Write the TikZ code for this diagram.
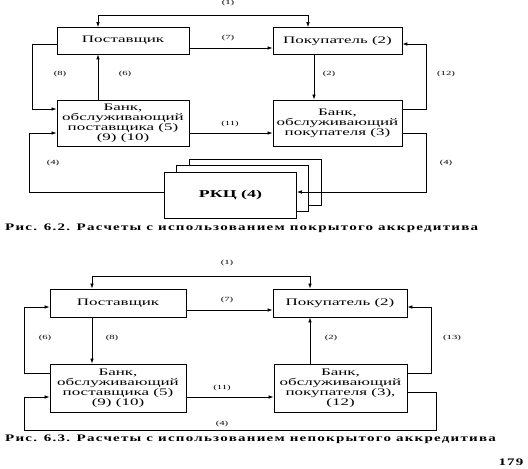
\documentclass[tikz,border=0pt]{standalone}
\usepackage{fontspec}
\setmainfont{Liberation Serif}
\newfontfamily\sr[FakeStretch=1.7]{Liberation Serif}
\newfontfamily\capfont[FakeStretch=1.5,LetterSpace=12.5]{Liberation Serif}
\usetikzlibrary{arrows.meta}
\begin{document}
\begin{tikzpicture}[x=1pt,y=-1pt,
  box/.style={draw, line width=0.8pt, inner sep=0pt, align=center, font=\sr\fontsize{10}{10}\selectfont},
  lbl/.style={font=\sr\fontsize{6.3}{7}\selectfont, inner sep=0pt},
  arr/.style={line width=0.7pt, -{Latex[length=5pt,width=3.6pt]}},
  arrb/.style={line width=0.7pt, {Latex[length=5pt,width=3.6pt]}-{Latex[length=5pt,width=3.6pt]}},
  captxt/.style={font=\capfont\bfseries\fontsize{10}{12}\selectfont, inner sep=0pt, anchor=west}]
\useasboundingbox (0,0) rectangle (528,469);
\fill[white] (0,0) rectangle (528,469);

% ---------- Fig 6.2 ----------
\node[box, minimum width=132pt, minimum height=26.5pt] (P1) at (123,40.75) {Поставщик};
\node[box, minimum width=129pt, minimum height=26.5pt] (B1) at (337.5,40.75) {Покупатель (2)};
\node[box, minimum width=132pt, minimum height=46pt] (L1) at (123,123) {Банк,\\обслуживающий\\поставщика (5)\\(9) (10)};
\node[box, minimum width=129pt, minimum height=46pt] (R1) at (337.5,123) {Банк,\\обслуживающий\\покупателя (3)};
\node[box, fill=white, minimum width=132pt, minimum height=46pt] (K3) at (255,182) {};
\node[box, fill=white, minimum width=132pt, minimum height=46pt] (K2) at (242.75,188.5) {};
\node[box, fill=white, minimum width=132pt, minimum height=46pt, font=\sr\bfseries\fontsize{10.5}{12}\selectfont] (K1) at (230.5,195) {РКЦ (4)};

\draw[arrb] (P1.north -| 98,0) -- (98,15) -- (308,15) -- (B1.north -| 308,0);
\draw[arr] (P1.east |- 0,48) -- (B1.west |- 0,48);
\draw[arr] (P1.west |- 0,44) -- (32,44) -- (32,109) -- (L1.west |- 0,109);
\draw[arr] (L1.north -| 98,0) -- (P1.south -| 98,0);
\draw[arr] (B1.south -| 314,0) -- (R1.north -| 314,0);
\draw[arr] (R1.east |- 0,109) -- (426,109) -- (426,44) -- (B1.east |- 0,44);
\draw[arr] (L1.east |- 0,133) -- (R1.west |- 0,133);
\draw[arr] (K1.west |- 0,192) -- (29,192) -- (29,133) -- (L1.west |- 0,133);
\draw[arr] (R1.east |- 0,133) -- (426,133) -- (426,192) -- (K1.east |- 0,192);

\node[lbl] (t1) at (228,3) {(1)};
\node[lbl] (t7) at (228,38) {(7)};
\node[lbl] (t8) at (60,74) {(8)};
\node[lbl] (t6) at (125,74) {(6)};
\node[lbl] (t2) at (329,74) {(2)};
\node[lbl] (t12) at (446,74) {(12)};
\node[lbl] (t11) at (230,124) {(11)};
\node[lbl] (t4a) at (53,163) {(4)};
\node[lbl] (t4b) at (446,163) {(4)};

\node[captxt] (c62) at (5,228) {Рис. 6.2. Расчеты с использованием покрытого аккредитива};

% ---------- Fig 6.3 ----------
\node[box, minimum width=136pt, minimum height=28pt] (P2) at (118,303) {Поставщик};
\node[box, minimum width=134pt, minimum height=28pt] (B2) at (340,303) {Покупатель (2)};
\node[box, minimum width=136pt, minimum height=48pt] (L2) at (118,388) {Банк,\\обслуживающий\\поставщика (5)\\(9) (10)};
\node[box, minimum width=133pt, minimum height=48pt] (R2) at (340.5,388) {Банк,\\обслуживающий\\покупателя (3),\\(12)};

\draw[arrb] (P2.north -| 92,0) -- (92,276) -- (310,276) -- (B2.north -| 310,0);
\draw[arr] (P2.east |- 0,310) -- (B2.west |- 0,310);
\draw[arr] (L2.west |- 0,373) -- (24,373) -- (24,307) -- (P2.west |- 0,307);
\draw[arr] (P2.south -| 92,0) -- (L2.north -| 92,0);
\draw[arr] (R2.north -| 310,0) -- (B2.south -| 310,0);
\draw[arr] (R2.east |- 0,373) -- (431,373) -- (431,307) -- (B2.east |- 0,307);
\draw[arr] (L2.east |- 0,397) -- (R2.west |- 0,397);
\draw[arr] (R2.east |- 0,392) -- (436,392) -- (436,430) -- (24,430) -- (24,397) -- (L2.west |- 0,397);

\node[lbl] (s1) at (227,263) {(1)};
\node[lbl] (s7) at (227,300) {(7)};
\node[lbl] (s6) at (45,338) {(6)};
\node[lbl] (s8) at (112,338) {(8)};
\node[lbl] (s2) at (331,338) {(2)};
\node[lbl] (s13) at (452,338) {(13)};
\node[lbl] (s11) at (222,388) {(11)};
\node[lbl] (s4) at (222,424) {(4)};

\node[captxt] (c63) at (5,439) {Рис. 6.3. Расчеты с использованием непокрытого аккредитива};
\node[font=\capfont\bfseries\fontsize{10}{12}\selectfont, inner sep=0pt] (pg) at (511,462) {179};
\end{tikzpicture}
\end{document}
